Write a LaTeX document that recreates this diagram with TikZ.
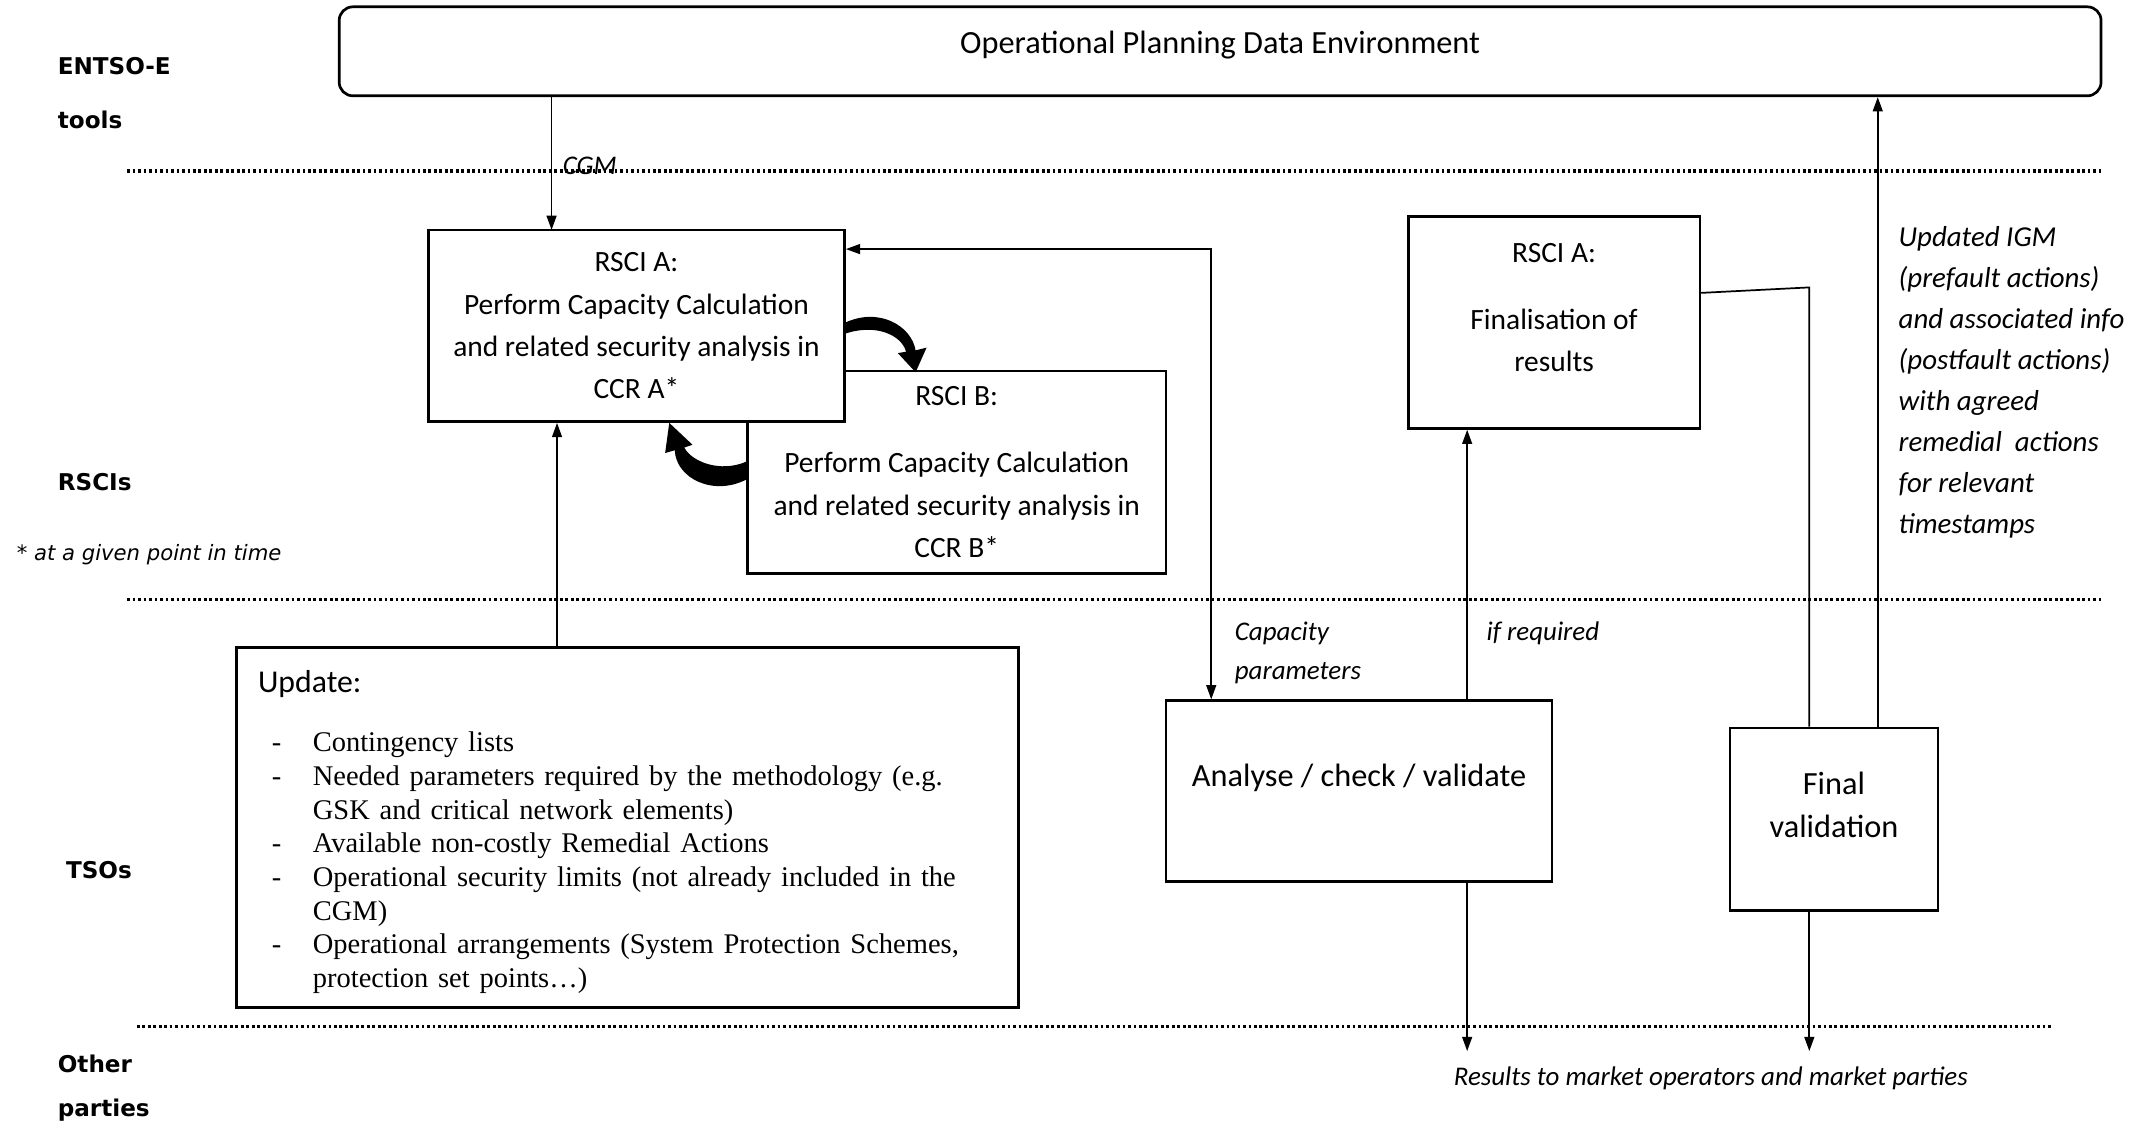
\documentclass[tikz,border=0pt]{standalone}
\usepackage{fontspec}
\setmainfont{Carlito}
\newfontfamily\lanefont{DejaVu Sans}
\newfontfamily\listfont{Liberation Serif}
\usetikzlibrary{arrows.meta,calc}
\newcommand{\tsoitem}[1]{\par\noindent\hangindent=1cm\hangafter=1\hspace*{0.25cm}\makebox[0.75cm][l]{-}#1\par}
\tikzset{
  font=\fontsize{15.3}{22}\selectfont,
  arrow/.style={-{Triangle[length=0.26cm,width=0.18cm]},draw=black,line width=0.9pt},
  biarrow/.style={{Triangle[length=0.26cm,width=0.18cm]}-{Triangle[length=0.26cm,width=0.18cm]},draw=black,line width=0.9pt},
  link/.style={draw=black,line width=0.9pt},
  procbox/.style={rectangle,draw=black,line width=1.4pt,fill=white,align=center,inner sep=2pt,font=\fontsize{15.3}{22}\selectfont},
  bigbox/.style={procbox,font=\fontsize{16.8}{22.7}\selectfont},
  envbox/.style={bigbox,rounded corners=0.25cm},
  lane/.style={font=\lanefont\bfseries\fontsize{12}{28}\selectfont,align=left,anchor=west,inner sep=0pt},
  note/.style={font=\itshape\fontsize{14}{20}\selectfont,align=left,anchor=west,inner sep=0pt},
  lanesep/.style={line width=0.06cm,dash pattern=on 0.05cm off 0.05cm},
}
\begin{document}
\begin{tikzpicture}[x=0.025cm,y=-0.025cm]
\useasboundingbox (0,0) rectangle (1568,820);

\draw[lanesep] (93,125) -- (1535,125);
\draw[lanesep] (93,438) -- (1535,438);
\draw[lanesep] (100,750) -- (1500,750);

\node[lane] (entso) at (42,68) {ENTSO-E\\tools};
\node[lane] (rscis) at (42,352) {RSCIs};
\node[lane,font=\lanefont\itshape\fontsize{11}{13}\selectfont] (given) at (12,405) {* at a given point in time};
\node[lane] (tsos) at (48,636) {TSOs};
\node[lane,font=\lanefont\bfseries\fontsize{12}{22.7}\selectfont] (others) at (42,795) {Other\\parties};

\node[envbox,minimum width=32.175cm,minimum height=1.625cm,text depth=0.34cm] (opde) at (891.5,37.5) {Operational Planning Data Environment};

\node[procbox,minimum width=7.65cm,minimum height=3.7cm] (rsciB) at (699,345) {RSCI B:\\[0.45cm]Perform Capacity Calculation\\and related security analysis in\\CCR B*};
\node[procbox,minimum width=7.6cm,minimum height=3.5cm] (rsciA) at (465,238) {RSCI A:\\Perform Capacity Calculation\\and related security analysis in\\CCR A*};
\node[procbox,minimum width=5.325cm,minimum height=3.875cm,text depth=0.55cm] (fin) at (1135.5,235.5) {RSCI A:\\[0.45cm]Finalisation of\\results};
\node[bigbox,minimum width=7.05cm,minimum height=3.3cm,text depth=0.58cm] (anal) at (993,578) {Analyse / check / validate};
\node[bigbox,minimum width=3.8cm,minimum height=3.325cm,text depth=0.52cm] (finval) at (1340,598.5) {Final\\validation};

\node[procbox,align=left,anchor=north west,minimum width=14.275cm,minimum height=6.575cm,text width=13.5cm,inner xsep=0.39cm] (upd) at (172,472) {%
  \rule{0pt}{0.57cm}{\fontsize{16.5}{22}\selectfont Update:}\par\vspace{0.47cm}
  \listfont\fontsize{14.8}{17.5}\selectfont
  \tsoitem{Contingency lists}
  \tsoitem{Needed parameters required by the methodology (e.g.\newline GSK and critical network elements)}
  \tsoitem{Available non-costly Remedial Actions}
  \tsoitem{Operational security limits (not already included in the\newline CGM)}
  \tsoitem{Operational arrangements (System Protection Schemes,\newline protection set points\dots)}};

\coordinate (cgmIn) at (403,168);
\draw[arrow] (opde.south -| cgmIn) -- (cgmIn);
\node[note] (cgmlbl) at (411,121) {CGM};

\coordinate (updOut) at (407,472);
\draw[arrow] (updOut) -- (updOut |- rsciA.south);

\fill (617,236) .. controls (642,224) and (666,238) .. (669,256) -- (677,254) -- (669,272)
  -- (656,258) -- (662,257) .. controls (659,245) and (640,236) .. (617,244) -- cycle;
\fill (546,350) .. controls (522,363) and (494,350) .. (493,329) -- (486,331) -- (489,309)
  -- (506,325) -- (500,327) .. controls (505,337) and (526,346) .. (546,337) -- cycle;

\coordinate (capTurn) at (885,182);
\draw[biarrow] (rsciA.east |- capTurn) -- (capTurn) -- (capTurn |- anal.north);
\node[note] (caplbl) at (902,477) {Capacity\\parameters};

\coordinate (ifReq) at (1072,512);
\draw[arrow] (ifReq |- anal.north) -- (ifReq |- fin.south);
\node[note] (ifreqlbl) at (1086,463) {if required};

\coordinate (finTurn) at (1322,210);
\draw[link] (fin.east |- 0,214) -- (finTurn) -- (finTurn |- finval.north);

\coordinate (igmUp) at (1372,532);
\draw[arrow] (igmUp |- finval.north) -- (igmUp |- opde.south);
\node[note,font=\itshape\fontsize{15}{21.3}\selectfont] (igmlbl) at (1387,279.5) {Updated IGM\\(prefault actions)\\and associated info\\(postfault actions)\\with agreed\\remedial\ \ actions\\for relevant\\timestamps};

\coordinate (resA) at (1072,768);
\coordinate (resB) at (1322,768);
\draw[arrow] (ifReq |- anal.south) -- (resA);
\draw[arrow] (finTurn |- finval.south) -- (resB);
\node[note,anchor=center] (reslbl) at (1250,788) {Results to market operators and market parties};

\end{tikzpicture}
\end{document}
